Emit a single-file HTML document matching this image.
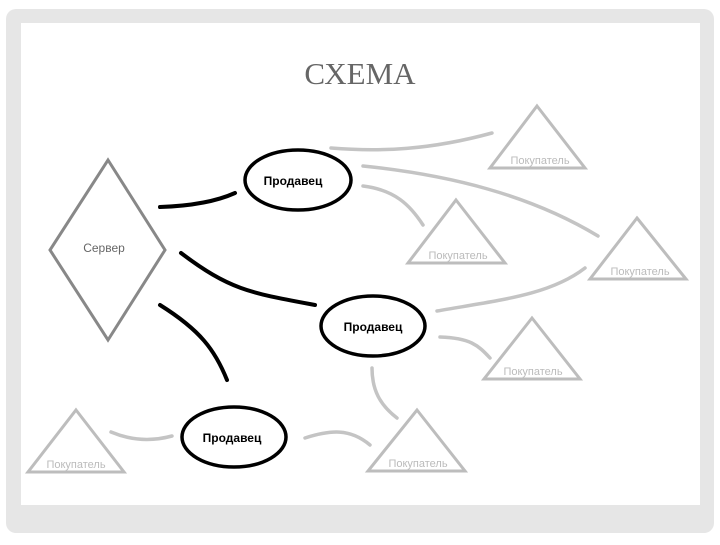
<!DOCTYPE html>
<html><head><meta charset="utf-8"><style>
html,body{margin:0;padding:0;background:#fff}
</style></head><body>
<svg width="720" height="540" viewBox="0 0 720 540" xmlns="http://www.w3.org/2000/svg">
<rect x="0" y="0" width="720" height="540" fill="#fff"/>
<rect x="6" y="9" width="708" height="524" rx="10" fill="#e6e6e6"/>
<rect x="21" y="23" width="679" height="482" fill="#fff"/>
<text x="360" y="84" text-anchor="middle" font-family="Liberation Serif, serif" font-size="31" fill="#666">СХЕМА</text>
<g fill="none" stroke="#888" stroke-width="3">
<polygon points="108,160 165,250 108,340 50,250"/>
</g>
<text x="104" y="252" text-anchor="middle" font-family="Liberation Sans, sans-serif" font-size="12" fill="#666">Сервер</text>
<g fill="none" stroke="#000" stroke-width="4" stroke-linecap="round">
<path d="M160,207 C190,206 215,202 235,193"/>
<path d="M181,253 C230,290 250,293 315,305"/>
<path d="M160,305 C200,330 215,350 227,380"/>
<ellipse cx="298" cy="180" rx="53" ry="30" stroke-width="3.5"/>
<ellipse cx="373" cy="326" rx="52" ry="30" stroke-width="3.5"/>
<ellipse cx="234" cy="437" rx="52" ry="30" stroke-width="3.5"/>
</g>
<g font-family="Liberation Sans, sans-serif" font-size="12" text-anchor="middle" fill="#000" font-weight="bold">
<text x="293" y="185">Продавец</text>
<text x="373" y="331">Продавец</text>
<text x="232" y="442">Продавец</text>
</g>
<g fill="none" stroke="#c4c4c4" stroke-width="3.5" stroke-linecap="round">
<path d="M331,148 C380,152 430,150 492,133"/>
<path d="M363,166 C450,175 530,195 598,236"/>
<path d="M363,186 C395,190 410,205 423,225"/>
<path d="M437,311 C500,300 550,295 585,268"/>
<path d="M440,337 C470,338 478,345 490,358"/>
<path d="M372,368 C372,390 380,405 397,418"/>
<path d="M305,438 C330,430 350,428 370,445"/>
<path d="M111,432 C130,440 150,442 172,436"/>
</g>
<g fill="none" stroke="#bdbdbd" stroke-width="3">
<polygon points="537,106 585,168 490,168"/>
<polygon points="456,200 505,263 408,263"/>
<polygon points="637,218 686,279 590,279"/>
<polygon points="532,318 580,379 484,379"/>
<polygon points="417,410 465,471 368,471"/>
<polygon points="76,410 124,472 28,472"/>
</g>
<g font-family="Liberation Sans, sans-serif" font-size="11" text-anchor="middle" fill="#bbb">
<text x="540" y="164">Покупатель</text>
<text x="458" y="259">Покупатель</text>
<text x="640" y="275">Покупатель</text>
<text x="533" y="375">Покупатель</text>
<text x="418" y="467">Покупатель</text>
<text x="76" y="468">Покупатель</text>
</g>
</svg>
</body></html>
